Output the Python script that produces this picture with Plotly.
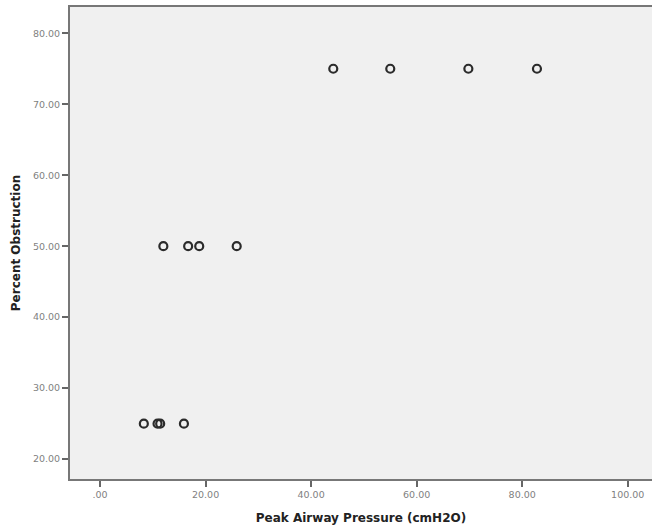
import plotly.graph_objects as go

# Peak airway pressure (cmH2O) at each obstruction level
pressure_25 = [8.3, 10.9, 11.4, 15.9]
pressure_50 = [12.0, 16.7, 18.8, 25.9]
pressure_75 = [44.2, 55.0, 69.8, 82.8]
obstruction_levels = [25, 50, 75]

x_tick_vals = [0, 20, 40, 60, 80, 100]
x_tick_text = [".00", "20.00", "40.00", "60.00", "80.00", "100.00"]
y_tick_vals = [20, 30, 40, 50, 60, 70, 80]
y_tick_text = ["20.00", "30.00", "40.00", "50.00", "60.00", "70.00", "80.00"]

xs = pressure_25 + pressure_50 + pressure_75
ys = ([obstruction_levels[0]] * len(pressure_25)
      + [obstruction_levels[1]] * len(pressure_50)
      + [obstruction_levels[2]] * len(pressure_75))

fig = go.Figure()
fig.add_trace(go.Scatter(
    x=xs, y=ys, mode="markers",
    marker=dict(symbol="circle-open", size=8, color="#2b2b2b",
                line=dict(width=2.2, color="#2b2b2b")),
    showlegend=False,
))

tick_font = dict(family="DejaVu Sans", size=9.5, color="#7f7f7f")
title_font = dict(family="DejaVu Sans", size=12, color="#222222")

fig.update_layout(
    width=652, height=529,
    margin=dict(l=70, r=0, t=7, b=50),
    paper_bgcolor="white",
    plot_bgcolor="#f0f0f0",
    xaxis=dict(
        range=[-5.69, 104.6],
        tickvals=x_tick_vals, ticktext=x_tick_text,
        ticks="outside", ticklen=6, tickwidth=2, tickcolor="#666666",
        showline=True, linecolor="#777777", linewidth=2, mirror=True,
        showgrid=False, zeroline=False,
        tickfont=tick_font,
        title=dict(text="<b>Peak Airway Pressure (cmH2O)</b>", font=title_font, standoff=14),
    ),
    yaxis=dict(
        range=[17.2, 83.7],
        tickvals=y_tick_vals, ticktext=y_tick_text,
        ticks="outside", ticklen=6, tickwidth=2, tickcolor="#666666",
        showline=True, linecolor="#777777", linewidth=2,
        showgrid=False, zeroline=False,
        tickfont=tick_font,
        title=dict(text="<b>Percent Obstruction</b>", font=title_font, standoff=10),
    ),
)

fig.write_html("out.html")
